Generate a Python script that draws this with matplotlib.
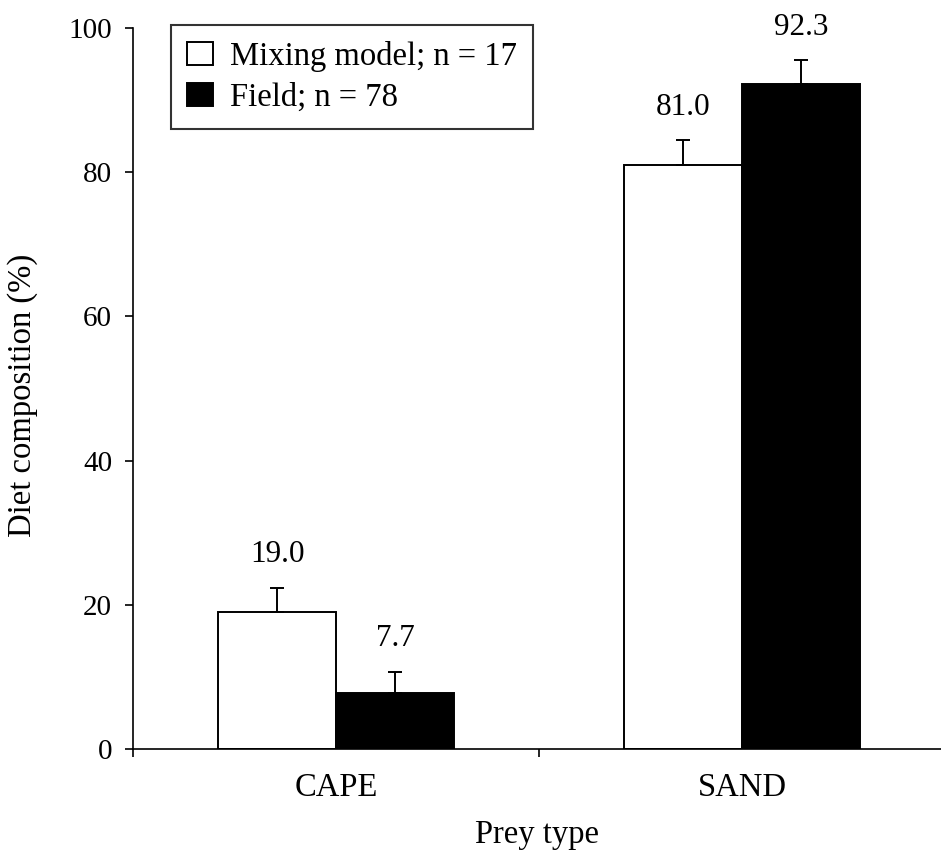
import matplotlib
matplotlib.use("Agg")
import matplotlib.pyplot as plt
import numpy as np

# data
prey_types  = ["CAPE", "SAND"]
mixing_vals = [19.0, 81.0]
field_vals  = [7.7, 92.3]
mixing_err  = [3.3, 3.4]
field_err   = [3.0, 3.2]
series_labels = ["Mixing model; n = 17", "Field; n = 78"]

plt.rcParams["font.family"] = ["Liberation Serif", "DejaVu Serif"]
FS = 23.5      # labels, legend
FS_TICK = 21   # y tick numbers
FS_VAL = 22.5  # value labels above bars

W, H = 941, 850
fig = plt.figure(figsize=(W / 100, H / 100), dpi=100)
ax = fig.add_axes([133 / W, 101 / H, (W - 133) / W, 721 / H])

x = np.arange(len(prey_types))
bw = 0.29
ax.bar(x - bw / 2, mixing_vals, bw, color="white", edgecolor="black",
       linewidth=1.4, label=series_labels[0], zorder=2)
ax.bar(x + bw / 2, field_vals, bw, color="black", edgecolor="black",
       linewidth=1.4, label=series_labels[1], zorder=2)

# upper-only error bars + value labels
for xs, vals, errs in [(x - bw / 2, mixing_vals, mixing_err),
                       (x + bw / 2, field_vals, field_err)]:
    ax.errorbar(xs, vals, yerr=[np.zeros(len(errs)), errs], fmt="none",
                ecolor="black", elinewidth=1.4, capsize=4.7, capthick=1.4, zorder=3)
    for xi, v, e in zip(xs, vals, errs):
        ax.text(xi, v + e + 2.6, f"{v:.1f}", ha="center", va="bottom", fontsize=FS_VAL)

ax.set_xlim(-0.5, 1.49)
ax.set_ylim(0, 100)
ax.set_yticks(range(0, 101, 20))
ax.set_xticks(x)
ax.set_xticklabels(prey_types)
ax.set_xticks([-0.5, 0.5], minor=True)
ax.tick_params(axis="x", which="major", length=0, pad=17, labelsize=FS)
ax.tick_params(axis="x", which="minor", length=6, width=1.2, direction="out")
ax.tick_params(axis="y", length=6, width=1.2, direction="out", pad=9, labelsize=FS_TICK)

for side in ["top", "right"]:
    ax.spines[side].set_visible(False)
for side in ["left", "bottom"]:
    ax.spines[side].set_linewidth(1.2)

ax.set_ylabel("Diet composition (%)", fontsize=FS)
ax.yaxis.set_label_coords(-95 / (W - 133), 0.49)
ax.set_xlabel("Prey type", fontsize=FS)
ax.xaxis.set_label_coords(0.5, -70 / 721)

leg = ax.legend(loc="upper left", bbox_to_anchor=(171 / W, 1 - 25 / H),
                bbox_transform=fig.transFigure, fontsize=FS, frameon=True,
                fancybox=False, edgecolor="black", handlelength=0.8,
                handleheight=0.7, handletextpad=0.5, borderpad=0.5,
                labelspacing=0.3, borderaxespad=0)
leg.get_frame().set_linewidth(1.5)

fig.savefig("out.png", dpi=100, facecolor="white")
